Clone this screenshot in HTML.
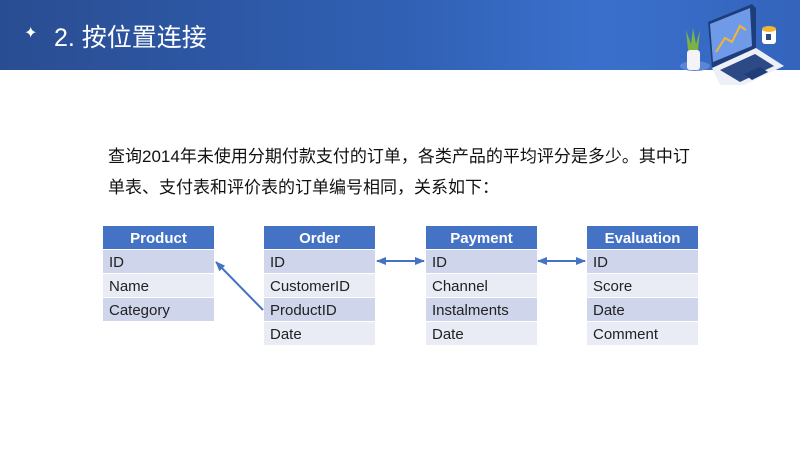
<!DOCTYPE html>
<html><head><meta charset="utf-8"><style>
*{margin:0;padding:0;box-sizing:border-box}
body{width:800px;height:450px;position:relative;background:#fff;overflow:hidden;font-family:"Liberation Sans","Noto Sans CJK SC",sans-serif}
.hdr{position:absolute;left:0;top:0;width:800px;height:70px;background:linear-gradient(90deg,#2a4d92 0%,#3060b4 50%,#3a70cc 75%,#3464bc 100%)}
.title{position:absolute;left:54px;top:18px;color:#fff;font-size:25px;font-family:"Liberation Sans","Noto Sans CJK SC",sans-serif}
.star{position:absolute;left:24px;top:23px;color:#fff;font-size:16px}
.p{position:absolute;left:108px;top:141px;font-size:17px;line-height:31px;color:#111;width:600px}
.t{position:absolute;width:111px;font-size:15px;color:#222}
.t div{height:23px;margin-bottom:1px;padding-left:6px;line-height:25px}
.t .h{background:#4472c4;color:#fff;font-weight:bold;text-align:center;padding:0}
.t .d{background:#cfd5ea}
.t .l{background:#e9ebf5}
</style></head><body>
<div class="hdr"></div>
<div class="star">✦</div>
<div class="title">2. 按位置连接</div>
<svg style="position:absolute;left:660px;top:0" width="140" height="85" viewBox="0 0 140 85">
<ellipse cx="35" cy="66" rx="15" ry="5" fill="#5b86d8"/>
<path d="M28 50 L26 30 L31 44 L33 28 L36 44 L40 30 L38 50Z" fill="#7cb342"/>
<rect x="27" y="50" width="13" height="20" rx="3" fill="#f4f4f8"/>
<polygon points="48,22 92,4 96,8 96,48 52,68" fill="#1e3d7a"/>
<polygon points="50,24 90,8 92,46 53,62" fill="#6f9ae8"/>
<polyline points="56,52 65,38 72,42 80,26 86,30" fill="none" stroke="#f2b632" stroke-width="2"/>
<polygon points="52,68 96,48 124,66 84,85 60,85" fill="#eef0f7"/>
<polygon points="60,70 95,54 114,66 80,82" fill="#2c4a86"/>
<polygon points="84,74 100,67 108,72 92,80" fill="#1e3d7a"/>
<rect x="102" y="28" width="14" height="16" rx="3" fill="#fff"/>
<ellipse cx="109" cy="29" rx="7" ry="3" fill="#f2b632"/>
<rect x="106" y="34" width="5" height="6" fill="#2c4a86"/>
</svg>
<div class="p">查询2014年未使用分期付款支付的订单，各类产品的平均评分是多少。其中订<br>单表、支付表和评价表的订单编号相同，关系如下：</div>
<div class="t" style="left:103px;top:226px"><div class="h">Product</div><div class="d">ID</div><div class="l">Name</div><div class="d">Category</div></div>
<div class="t" style="left:264px;top:226px"><div class="h">Order</div><div class="d">ID</div><div class="l">CustomerID</div><div class="d">ProductID</div><div class="l">Date</div></div>
<div class="t" style="left:426px;top:226px"><div class="h">Payment</div><div class="d">ID</div><div class="l">Channel</div><div class="d">Instalments</div><div class="l">Date</div></div>
<div class="t" style="left:587px;top:226px"><div class="h">Evaluation</div><div class="d">ID</div><div class="l">Score</div><div class="d">Date</div><div class="l">Comment</div></div>
<svg style="position:absolute;left:0;top:0" width="800" height="450">
<defs><marker id="a" markerWidth="10" markerHeight="8" refX="9" refY="4" orient="auto-start-reverse" markerUnits="userSpaceOnUse"><path d="M0,0 L10,4 L0,8Z" fill="#4472c4"/></marker></defs>
<g stroke="#4472c4" stroke-width="2" fill="none">
<line x1="263" y1="310" x2="216" y2="262" marker-end="url(#a)"/>
<line x1="377" y1="261" x2="424" y2="261" marker-start="url(#a)" marker-end="url(#a)"/>
<line x1="538" y1="261" x2="585" y2="261" marker-start="url(#a)" marker-end="url(#a)"/>
</g></svg>
</body></html>
